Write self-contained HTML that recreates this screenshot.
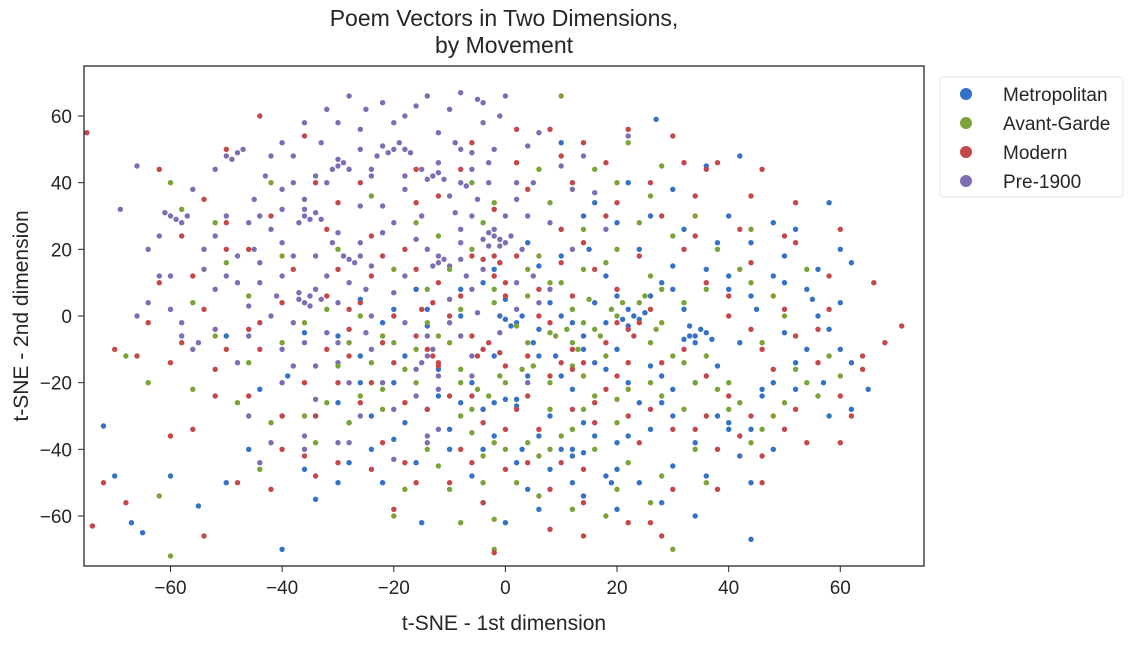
<!DOCTYPE html>
<html><head><meta charset="utf-8"><style>
body{margin:0;background:#fff;font-family:"Liberation Sans",Arial,sans-serif;}
svg text{font-family:"Liberation Sans",Arial,sans-serif;fill:#262626;}
</style></head><body>
<svg id="chart" width="1131" height="640" viewBox="0 0 1131 640" xmlns="http://www.w3.org/2000/svg">
<text x="504" y="26" font-size="23" text-anchor="middle">Poem Vectors in Two Dimensions,</text>
<text x="504" y="53" font-size="23" text-anchor="middle">by Movement</text>
<g id="points"></g>
<rect x="84" y="66" width="840" height="500" fill="none" stroke="#262626" stroke-width="1.3"/>
<g id="xticks"></g>
<g id="yticks"></g>
<text x="504" y="630" font-size="21" text-anchor="middle">t-SNE - 1st dimension</text>
<text transform="translate(28,316) rotate(-90)" font-size="21" text-anchor="middle">t-SNE - 2nd dimension</text>
<g>
<rect x="940" y="77" width="183" height="120" fill="#fff" stroke="#e6e6e6" rx="3"/>
<g><circle cx="966" cy="94" r="6" fill="#3571c6"/><text x="1003" y="101" font-size="19">Metropolitan</text></g>
<g><circle cx="966" cy="123" r="6" fill="#7ba33a"/><text x="1003" y="130" font-size="19">Avant-Garde</text></g>
<g><circle cx="966" cy="152" r="6" fill="#c4474a"/><text x="1003" y="159" font-size="19">Modern</text></g>
<g><circle cx="966" cy="181" r="6" fill="#7f6db4"/><text x="1003" y="188" font-size="19">Pre-1900</text></g>
</g>
</svg>
<script>
const xTicks=[-60,-40,-20,0,20,40,60];
const yTicks=[-60,-40,-20,0,20,40,60];
const seriesNames=["Pre-1900","Metropolitan","Avant-Garde","Modern"];
const pre1900=[[-36,30],[-34,31],[-37,28],[-35,6],[-37,7],[-33,5],[-36,4],[-30,45],[-29,46],[-31,44],[-20,50],[-18,50],[-22,51],[-13,42],[-12,43],[-8,40],[-2,24],[-1,23],[-3,25],[0,22],[-12,16],[-11,17],[-28,17],[-27,16],[-60,30],[-59,29],[-48,49],[-47,50],[-50,48],[-10,62],[-5,65],[-4,64],[-25,62],[-28,66],[-16,63],[-14,66],[-8,50],[-2,50],[4,51],[5,40],[2,35],[-5,35],[-15,30],[-22,33],[-40,38],[-44,30],[-45,20],[-52,8],[-48,10],[-55,-8],[-58,-2],[-60,2],[-62,12],[-54,20],[-40,12],[-42,0],[-30,4],[-25,8],[-20,7],[-18,-2],[-25,-5],[-32,-5],[-36,-8],[-14,-12],[-13,-10],[-15,-14],[-6,-12],[-10,5],[-6,8],[-8,17],[-4,14],[2,10],[4,30],[8,28],[10,45],[6,55],[-18,38],[-24,42],[-33,52],[-38,48],[-42,48],[-30,58],[-20,58],[-12,55],[-4,58],[-22,25],[-30,25],[-34,18],[-46,3],[-40,-20],[-34,-25],[-28,-38],[-14,-36],[-24,-10],[-10,-2],[2,2],[-38,-15],[-66,45],[-69,32],[-64,20],[-45,35],[-50,30],[-8,26],[12,38],[-16,23],[-26,33],[-40,22],[-3,40],[-6,44],[-18,12],[-28,10],[-36,35],[-43,42],[-54,14],[-57,30],[-22,-20],[-12,-18],[-4,-28],[-42,-38],[-20,-43],[16,37],[22,54],[3,20],[-1,-5],[-30,-14],[-48,-14],[-5,1],[5,12],[-9,31],[-1,60],[-12,46],[-26,50],[-34,42],
[-35,29],[-36,32],[-33,29],[-37,5],[-34,8],[-35,3],[-2,26],[-4,23],[-1,21],[-3,21],[1,24],[-30,47],[-28,44],[-19,52],[-21,49],[-11,41],[-14,41],[-7,39],[-12,18],[-10,15],[-13,15],[-29,18],[-26,18],[-61,31],[-58,28],[-49,47],[-17,49],[-23,48],[-9,52],[-6,49],[-15,44],[-24,44],[-32,40],[-38,40],[-40,32],[-42,26],[-46,28],[-48,18],[-50,12],[-44,10],[-38,18],[-32,12],[-26,22],[-20,28],[-14,20],[-8,22],[-6,30],[0,30],[2,40],[-10,36],[-18,42],[-26,56],[-36,58],[-22,64],[-8,67],[0,66],[-32,62],[-40,52],[-52,44],[-56,38],[-62,24],[-64,4],[-58,-6],[-52,-4],[-46,-6],[-40,-10],[-34,-15],[-28,-20],[-16,-16],[-14,-6],[-8,-6],[-20,-28],[-26,-30],[-36,-36],[-46,-30],[-30,-38],[-14,-38],[-12,-34],[4,-20],[8,8],[12,20],[18,26],[14,48],[-3,46],[-18,60],[-16,8],[-24,0],[-30,-8],[-44,16],[-52,24],[-24,15],[-31,22],[-7,12],[-1,16],[-38,-2],[-41,6],[-56,-10],[-60,12],[-66,0],[-44,-44],[-36,-40],[-16,-24],[-6,-18],[-12,-22],[6,4]];
const metro=[[0,-1],[2,-2],[5,-8],[10,0],[14,-6],[18,-2],[22,2],[24,-1],[33,-6],[34,-8],[36,-5],[28,10],[30,15],[40,8],[45,2],[50,-5],[55,5],[60,20],[62,16],[58,34],[42,48],[36,45],[30,38],[20,28],[15,20],[10,18],[8,4],[-2,-12],[-4,-28],[2,-25],[8,-30],[12,-40],[18,-48],[22,-36],[28,-26],[34,-38],[40,-34],[46,-22],[52,-14],[57,-20],[62,-28],[65,-22],[44,-50],[-6,-48],[0,-62],[-10,-34],[-20,-37],[-26,-20],[-30,-50],[-34,-55],[-46,-40],[-65,-65],[-67,-62],[-70,-48],[-72,-33],[-55,-57],[-40,-70],[-15,-62],[6,-58],[14,-54],[24,-50],[34,-60],[30,-45],[-16,8],[-14,-3],[-6,-20],[-24,-30],[-36,-5],[6,15],[14,30],[24,20],[38,22],[48,12],[48,28],[26,-15],[16,-14],[4,-18],[12,-22],[20,-10],[38,-15],[42,-42],[8,-46],[-2,-36],[-8,0],[-22,-2],[-30,-26],[50,18],[56,0],[32,2],[18,12],[9,-12],[3,-40],[-12,-24],[-4,10],[22,40],[27,59],[44,-67],[10,52],[30,-30],[-39,-18],[-50,-6],[24,-26],[16,-36],[34,-20],[42,-8],[60,-10],[0,5],[-16,-44],[-28,-44],
[34,-6],[35,-4],[32,-7],[37,-7],[33,-3],[23,0],[21,-1],[25,1],[22,-3],[1,-3],[3,0],[-1,0],[0,-25],[2,-27],[-2,-26],[12,-42],[10,-40],[14,-41],[20,-46],[19,-50],[38,-30],[40,-32],[44,-34],[46,-24],[48,-20],[52,-22],[54,-10],[58,-4],[54,8],[50,10],[44,6],[40,12],[36,14],[30,8],[26,6],[20,6],[16,4],[12,-2],[6,-4],[6,-12],[10,-18],[14,-10],[18,-16],[22,-20],[28,-18],[30,-22],[26,-34],[20,-38],[14,-32],[6,-36],[2,-44],[-4,-40],[-8,-26],[-12,-16],[-18,-12],[-20,-20],[-14,-28],[-10,-40],[-18,-32],[-24,-40],[-28,-32],[-34,-30],[-40,-30],[-44,-22],[-30,-6],[-26,-12],[-20,2],[-26,5],[-14,2],[-8,8],[-2,14],[4,22],[10,26],[16,34],[26,30],[32,26],[40,30],[44,22],[52,26],[56,14],[60,4],[62,-14],[58,-30],[48,-40],[36,-48],[28,-56],[20,-58],[12,-50],[4,-52],[-4,-56],[-22,-50],[-36,-46],[-50,-50],[-60,-48]];
const avant=[[2,-3],[8,-5],[12,-8],[16,-4],[20,0],[24,4],[28,-2],[15,5],[10,10],[5,-15],[0,-20],[-5,-22],[-8,-30],[-4,-42],[0,-40],[6,-42],[10,-36],[14,-28],[20,-25],[26,-20],[30,-12],[18,-12],[14,-18],[-14,-2],[-20,-8],[-24,-14],[-28,-32],[-18,-52],[-12,-45],[-22,-28],[-30,-15],[-14,8],[-10,14],[-4,28],[6,18],[14,26],[20,40],[22,52],[28,45],[34,30],[38,20],[42,14],[48,6],[52,-16],[56,-24],[40,-28],[44,-38],[36,-50],[30,-70],[-2,-70],[-2,-61],[-60,-72],[-62,-54],[-68,-12],[-64,-20],[-60,40],[-58,32],[-50,16],[-46,6],[-56,-22],[-42,-32],[10,66],[6,44],[-6,40],[-16,28],[-30,20],[-26,0],[8,-20],[16,-40],[22,-44],[2,-50],[-8,-16],[12,2],[28,8],[32,-28],[48,-30],[60,-18],[-34,-38],[-20,-60],[-8,-62],[18,-60],[26,-8],[4,6],[-2,4],[18,16],[24,28],[36,-12],[46,-8],[54,14],[-36,-2],[-40,18],[-24,36],[-10,-8],[8,-28],[20,-32],[12,-15],[-16,-20],[-6,-35],[26,-56],[40,-20],[-48,-26],[-44,-46],[-6,20],[4,-8],[14,-2],
[9,-6],[11,-4],[13,-10],[17,-6],[19,2],[21,4],[25,6],[27,-4],[3,-16],[-1,-18],[-3,-24],[-6,-28],[-2,-38],[4,-38],[8,-40],[12,-34],[16,-24],[22,-22],[28,-24],[32,-14],[34,-20],[38,-22],[42,-26],[46,-34],[50,-26],[54,-20],[58,-12],[50,0],[44,10],[36,8],[32,4],[26,12],[20,20],[14,14],[8,10],[4,14],[-2,8],[-8,2],[-12,-6],[-18,-16],[-22,-22],[-26,-24],[-32,-26],[-36,-30],[-14,-40],[-10,-52],[-4,-50],[6,-54],[12,-58],[20,-52],[28,-48],[34,-40],[-8,-20],[-16,-10],[-22,-6],[-28,-8],[-32,2],[-20,14],[-12,24],[-2,34],[8,34],[16,44],[26,36],[30,24],[44,26],[-40,-8],[-46,-14],[-52,-6],[-56,4],[-52,28],[-42,40]];
const modern=[[-4,-10],[-6,-6],[0,-15],[4,-12],[8,-2],[12,-16],[16,-26],[18,-8],[22,-4],[26,2],[32,-10],[36,-18],[40,-24],[44,-30],[50,-34],[54,-38],[60,-24],[64,-12],[68,-8],[71,-3],[66,10],[60,26],[52,34],[46,44],[38,46],[30,54],[22,56],[14,52],[8,56],[2,46],[-2,32],[-6,18],[-12,10],[-18,20],[-24,12],[-20,0],[-28,-4],[-32,-10],[-36,-20],[-40,-30],[-44,-10],[-46,20],[-50,28],[-54,35],[-58,24],[-62,10],[-64,-2],[-66,-12],[-60,-36],[-56,-34],[-52,-24],[-50,-10],[-48,-50],[-54,-66],[-68,-56],[-72,-50],[-74,-63],[-75,55],[-44,60],[-36,54],[-32,26],[-30,34],[-22,-38],[-18,-44],[-12,-14],[-8,-40],[-14,-28],[-10,-50],[-4,-56],[2,-28],[6,-34],[10,-44],[14,-56],[22,-62],[28,-66],[8,-64],[-2,-71],[36,-30],[30,-34],[24,-38],[20,-18],[28,-14],[16,14],[10,26],[4,38],[-8,44],[-16,34],[32,20],[40,6],[44,-4],[48,-16],[56,-4],[58,12],[24,18],[18,30],[34,36],[42,26],[-26,-26],[-34,-30],[-40,4],[-44,-2],[-38,14],[-56,12],[-60,-14],[-58,-8],[0,6],[6,0],[12,6],[20,8],[-2,12],[-10,0],[-16,-6],[2,18],[8,-18],[16,-32],[4,-44],[-6,-24],[-20,-14],[-24,24],[-12,36],[12,40],[26,40],[32,46],[44,16],[50,2],[38,-40],[46,-50],[14,-66],[-30,-44],[-42,-52],[-20,-58],[-70,-10],[-62,44],[-50,50],[52,22],[62,-30],[30,-52],[-28,2],[-36,-42],
[-3,-8],[-5,-12],[-1,-11],[-2,18],[-1,16],[-4,17],[-13,-12],[-12,-15],[-14,-10],[-15,2],[-13,4],[23,-6],[24,-2],[20,-2],[12,-10],[10,-14],[14,-14],[22,-14],[18,-22],[12,-28],[4,-24],[0,-34],[-4,-32],[-10,-24],[-18,-26],[-24,-20],[-30,-20],[-28,-12],[-22,-8],[-26,4],[-32,6],[-30,14],[-22,18],[-16,14],[-8,6],[0,10],[6,8],[10,16],[14,22],[20,34],[28,30],[34,24],[36,10],[40,0],[46,-10],[52,-6],[56,-14],[52,-28],[42,-36],[34,-34],[26,-28],[22,-30],[14,-46],[8,-52],[0,-46],[-6,-44],[-16,-50],[-24,-46],[-34,-48],[-40,-40],[-46,-24],[-52,-16],[-46,-4],[-54,2],[-50,20],[-42,30],[-34,40],[-26,40],[-16,44],[-6,52],[2,56],[10,48],[18,46],[36,44],[44,36],[50,24],[58,2],[64,-16],[60,-38],[46,-42],[38,-52],[26,-62]];
const palette=["#7f6db4","#3571c6","#7ba33a","#c4474a"];
const seriesData=[pre1900,metro,avant,modern];
const NS="http://www.w3.org/2000/svg";
const L=84,R=924,T=66,B=566,XMIN=-75.5,XMAX=75,YMIN=-75,YMAX=75;
function sx(v){return L+(v-XMIN)/(XMAX-XMIN)*(R-L);}
function sy(v){return B-(v-YMIN)/(YMAX-YMIN)*(B-T);}
const pg=document.getElementById('points');
seriesData.forEach((arr,si)=>{
  arr.forEach((p,i)=>{
    const c=document.createElementNS(NS,'circle');
    c.setAttribute('cx',sx(p[0]).toFixed(1));
    c.setAttribute('cy',sy(p[1]).toFixed(1));
    c.setAttribute('r',2.7);
    c.setAttribute('fill',palette[si]);
    
    
    pg.appendChild(c);
  });
});
const xg=document.getElementById('xticks');
xTicks.forEach(t=>{
  const ln=document.createElementNS(NS,'line');
  ln.setAttribute('x1',sx(t));ln.setAttribute('x2',sx(t));ln.setAttribute('y1',B);ln.setAttribute('y2',B+6);
  ln.setAttribute('stroke','#262626');
  
  
  xg.appendChild(ln);
  const tx=document.createElementNS(NS,'text');
  tx.setAttribute('x',sx(t));tx.setAttribute('y',B+28);tx.setAttribute('font-size','19');tx.setAttribute('text-anchor','middle');
  tx.textContent=(t<0?'\u2212'+(-t):t);
  
  
  xg.appendChild(tx);
});
const yg=document.getElementById('yticks');
yTicks.forEach(t=>{
  const ln=document.createElementNS(NS,'line');
  ln.setAttribute('x1',L-6);ln.setAttribute('x2',L);ln.setAttribute('y1',sy(t));ln.setAttribute('y2',sy(t));
  ln.setAttribute('stroke','#262626');
  
  
  yg.appendChild(ln);
  const tx=document.createElementNS(NS,'text');
  tx.setAttribute('x',L-12);tx.setAttribute('y',sy(t)+7);tx.setAttribute('font-size','19');tx.setAttribute('text-anchor','end');
  tx.textContent=(t<0?'\u2212'+(-t):t);
  
  
  yg.appendChild(tx);
});
</script>
</body></html>
